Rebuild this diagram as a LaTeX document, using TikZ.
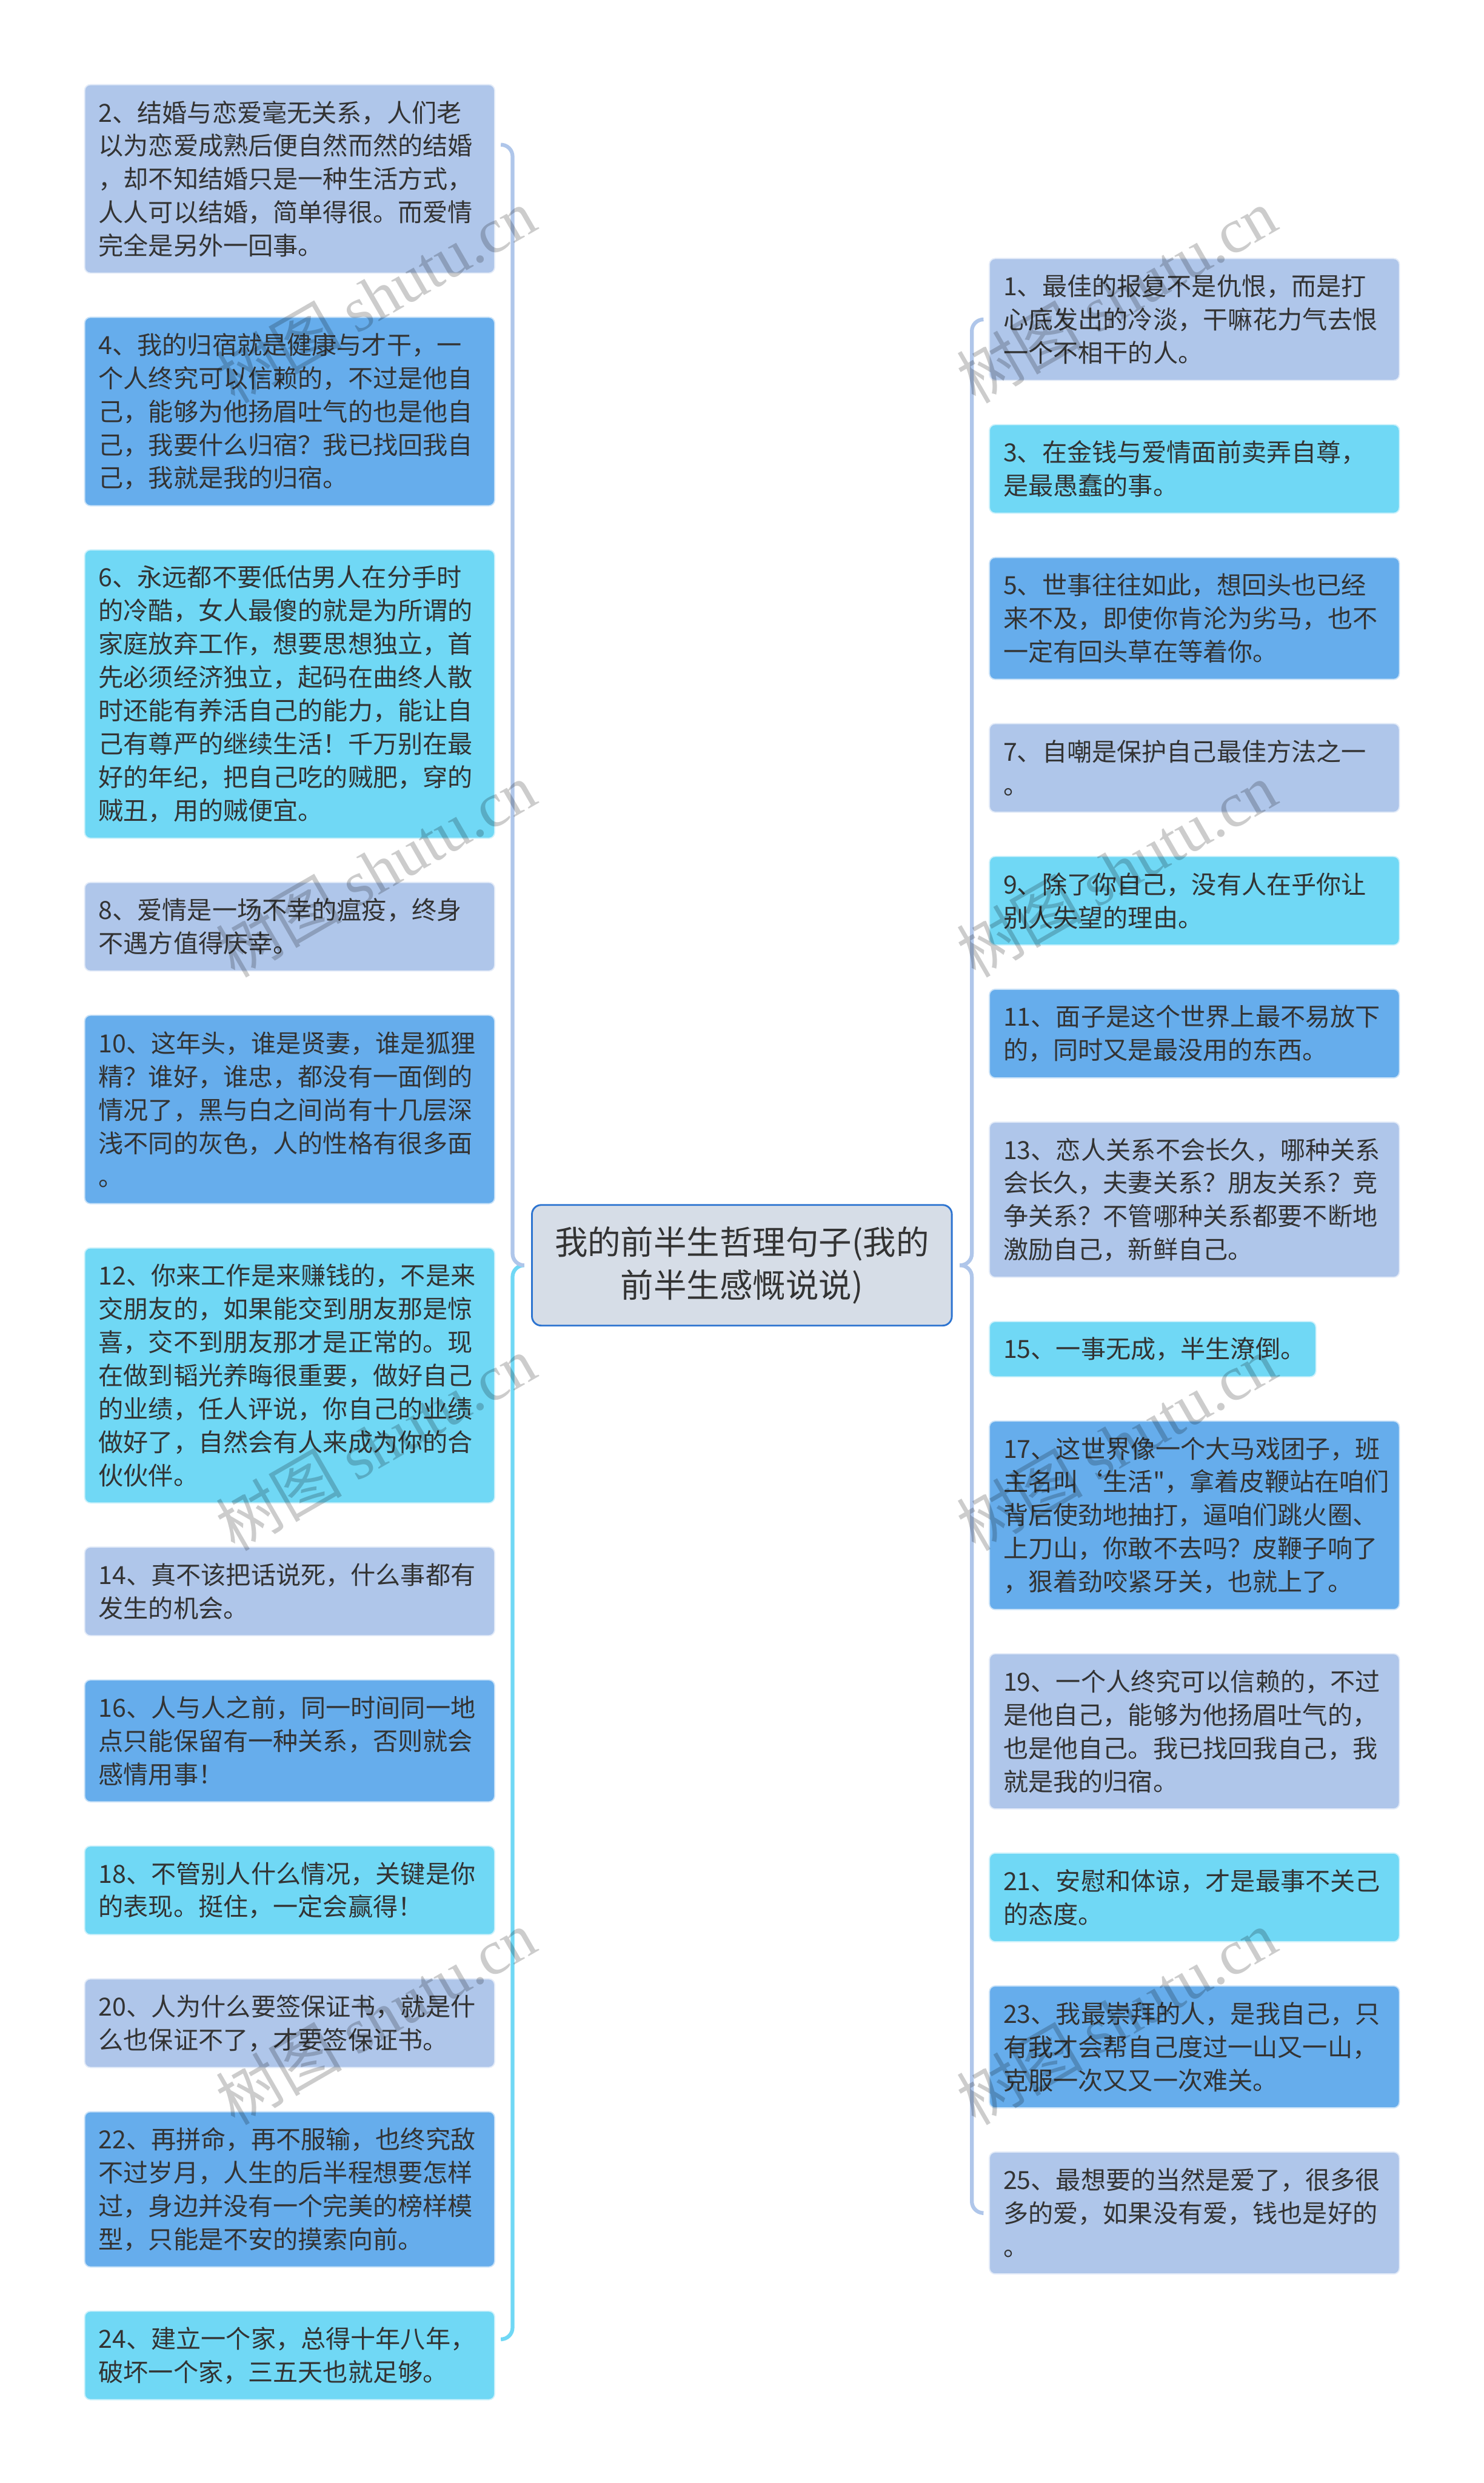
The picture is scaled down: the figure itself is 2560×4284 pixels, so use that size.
\documentclass[tikz,border=0pt]{standalone}
\usepackage{fontspec}
\setmainfont{Noto Sans CJK SC}[Ligatures=TeXOff]
\newfontfamily\stampserif{Liberation Serif}
\usetikzlibrary{calc}
\definecolor{ink}{RGB}{51,51,51}
\definecolor{cPale}{RGB}{175,198,234}
\definecolor{cAqua}{RGB}{112,216,245}
\definecolor{cDeep}{RGB}{102,173,236}
\definecolor{cRoot}{RGB}{214,221,231}
\definecolor{cRootEdge}{RGB}{45,116,208}
\newcommand\leaffont{\fontsize{12.24pt}{16.33pt}\selectfont}
\newcommand\rootfont{\fontsize{16.2pt}{21pt}\selectfont}
\newcommand\stampfont{\fontsize{31pt}{31pt}\selectfont}
\pgfdeclarelayer{background layer}
\pgfsetlayers{background layer,main}
\tikzstyle{leaf}=[rectangle,anchor=north west,rounded corners=0.1cm,text width=6.59cm,inner xsep=0.24cm,inner ysep=0pt,align=left,text=ink,font=\leaffont,line width=0.02cm]
\tikzstyle{pale}=[leaf,fill=cPale,draw=cPale!35!white]
\tikzstyle{aqua}=[leaf,fill=cAqua,draw=cAqua!35!white]
\tikzstyle{deep}=[leaf,fill=cDeep,draw=cDeep!35!white]
\tikzstyle{root}=[rectangle,rounded corners=0.16cm,fill=cRoot,draw=cRootEdge,line width=0.03cm,minimum width=7.24cm,minimum height=2.08cm,align=center,text=ink,font=\rootfont]
\tikzstyle{wire}=[line width=0.065cm,rounded corners=0.2cm]
\tikzstyle{stamp}=[rotate=30,text=black,opacity=0.2,font=\stampfont]

\begin{document}
\begin{tikzpicture}[x=0.01cm,y=-0.01cm]
			\useasboundingbox (0,0) rectangle (2560,4284);
			\node (ctr) at (1280,2183) [root] {我的前半生哲理句子(我的\\前半生感慨说说)};
			\node (b2) at (145,145) [pale,minimum height=3.25cm] {2、结婚与恋爱毫无关系，人们老\\以为恋爱成熟后便自然而然的结婚\\，却不知结婚只是一种生活方式，\\人人可以结婚，简单得很。而爱情\\完全是另外一回事。};
			\node (b4) at (145,546.4) [deep,minimum height=3.25cm] {4、我的归宿就是健康与才干，一\\个人终究可以信赖的，不过是他自\\己，能够为他扬眉吐气的也是他自\\己，我要什么归宿？我已找回我自\\己，我就是我的归宿。};
			\node (b6) at (145,947.8) [aqua,minimum height=4.972cm] {6、永远都不要低估男人在分手时\\的冷酷，女人最傻的就是为所谓的\\家庭放弃工作，想要思想独立，首\\先必须经济独立，起码在曲终人散\\时还能有养活自己的能力，能让自\\己有尊严的继续生活！千万别在最\\好的年纪，把自己吃的贼肥，穿的\\贼丑，用的贼便宜。};
			\node (b8) at (145,1521.4) [pale,minimum height=1.528cm] {8、爱情是一场不幸的瘟疫，终身\\不遇方值得庆幸。};
			\node (b10) at (145,1750.6) [deep,minimum height=3.25cm] {10、这年头，谁是贤妻，谁是狐狸\\精？谁好，谁忠，都没有一面倒的\\情况了，黑与白之间尚有十几层深\\浅不同的灰色，人的性格有很多面\\。};
			\node (b12) at (145,2152) [aqua,minimum height=4.398cm] {12、你来工作是来赚钱的，不是来\\交朋友的，如果能交到朋友那是惊\\喜，交不到朋友那才是正常的。现\\在做到韬光养晦很重要，做好自己\\的业绩，任人评说，你自己的业绩\\做好了，自然会有人来成为你的合\\伙伙伴。};
			\node (b14) at (145,2668.2) [pale,minimum height=1.528cm] {14、真不该把话说死，什么事都有\\发生的机会。};
			\node (b16) at (145,2897.4) [deep,minimum height=2.102cm] {16、人与人之前，同一时间同一地\\点只能保留有一种关系，否则就会\\感情用事！};
			\node (b18) at (145,3184) [aqua,minimum height=1.528cm] {18、不管别人什么情况，关键是你\\的表现。挺住，一定会赢得！};
			\node (b20) at (145,3413.2) [pale,minimum height=1.528cm] {20、人为什么要签保证书，就是什\\么也保证不了，才要签保证书。};
			\node (b22) at (145,3642.4) [deep,minimum height=2.676cm] {22、再拼命，再不服输，也终究敌\\不过岁月，人生的后半程想要怎样\\过，身边并没有一个完美的榜样模\\型，只能是不安的摸索向前。};
			\node (b24) at (145,3986.4) [aqua,minimum height=1.528cm] {24、建立一个家，总得十年八年，\\破坏一个家，三五天也就足够。};
			\node (b1) at (1706,445) [pale,minimum height=2.102cm] {1、最佳的报复不是仇恨，而是打\\心底发出的冷淡，干嘛花力气去恨\\一个不相干的人。};
			\node (b3) at (1706,731.6) [aqua,minimum height=1.528cm] {3、在金钱与爱情面前卖弄自尊，\\是最愚蠢的事。};
			\node (b5) at (1706,960.8) [deep,minimum height=2.102cm] {5、世事往往如此，想回头也已经\\来不及，即使你肯沦为劣马，也不\\一定有回头草在等着你。};
			\node (b7) at (1706,1247.4) [pale,minimum height=1.528cm] {7、自嘲是保护自己最佳方法之一\\。};
			\node (b9) at (1706,1476.6) [aqua,minimum height=1.528cm] {9、除了你自己，没有人在乎你让\\别人失望的理由。};
			\node (b11) at (1706,1705.8) [deep,minimum height=1.528cm] {11、面子是这个世界上最不易放下\\的，同时又是最没用的东西。};
			\node (b13) at (1706,1935) [pale,minimum height=2.676cm] {13、恋人关系不会长久，哪种关系\\会长久，夫妻关系？朋友关系？竞\\争关系？不管哪种关系都要不断地\\激励自己，新鲜自己。};
			\node (b15) at (1706,2279) [aqua,minimum height=0.954cm,text width=5.15cm] {15、一事无成，半生潦倒。};
			\node (b17) at (1706,2450.8) [deep,minimum height=3.25cm] {17、这世界像一个大马戏团子，班\\主名叫‘生活"，拿着皮鞭站在咱们\\背后使劲地抽打，逼咱们跳火圈、\\上刀山，你敢不去吗？皮鞭子响了\\，狠着劲咬紧牙关，也就上了。};
			\node (b19) at (1706,2852.2) [pale,minimum height=2.676cm] {19、一个人终究可以信赖的，不过\\是他自己，能够为他扬眉吐气的，\\也是他自己。我已找回我自己，我\\就是我的归宿。};
			\node (b21) at (1706,3196.2) [aqua,minimum height=1.528cm] {21、安慰和体谅，才是最事不关己\\的态度。};
			\node (b23) at (1706,3425.4) [deep,minimum height=2.102cm] {23、我最崇拜的人，是我自己，只\\有我才会帮自己度过一山又一山，\\克服一次又又一次难关。};
			\node (b25) at (1706,3712) [pale,minimum height=2.102cm] {25、最想要的当然是爱了，很多很\\多的爱，如果没有爱，钱也是好的\\。};
			\begin{pgfonlayer}{background layer}
			\fill[white] (0,0) rectangle (2560,4284);
			\draw[wire,draw=cAqua] ($(ctr.west)+(-12,0)$) -- ($(ctr.west)+(-32,0)$) |- ($(b24.north east)!0.32!(b24.south east)+(12,0)$);
			\draw[wire,draw=cPale] ($(ctr.west)+(-12,0)$) -- ($(ctr.west)+(-32,0)$) |- ($(b2.north east)!0.32!(b2.south east)+(12,0)$);
			\draw[wire,draw=cPale] ($(ctr.east)+(12,0)$) -- ($(ctr.east)+(33,0)$) |- ($(b25.west)+(-12,0)$);
			\draw[wire,draw=cPale] ($(ctr.east)+(12,0)$) -- ($(ctr.east)+(33,0)$) |- ($(b1.west)+(-12,0)$);
			\end{pgfonlayer}
			\node (wm1) at (648,510) [stamp] {树图 {\stampserif shutu.cn}};
			\node (wm2) at (648,1500) [stamp] {树图 {\stampserif shutu.cn}};
			\node (wm3) at (648,2490) [stamp] {树图 {\stampserif shutu.cn}};
			\node (wm4) at (648,3480) [stamp] {树图 {\stampserif shutu.cn}};
			\node (wm5) at (1926,510) [stamp] {树图 {\stampserif shutu.cn}};
			\node (wm6) at (1926,1500) [stamp] {树图 {\stampserif shutu.cn}};
			\node (wm7) at (1926,2490) [stamp] {树图 {\stampserif shutu.cn}};
			\node (wm8) at (1926,3480) [stamp] {树图 {\stampserif shutu.cn}};
		\end{tikzpicture}
\end{document}
